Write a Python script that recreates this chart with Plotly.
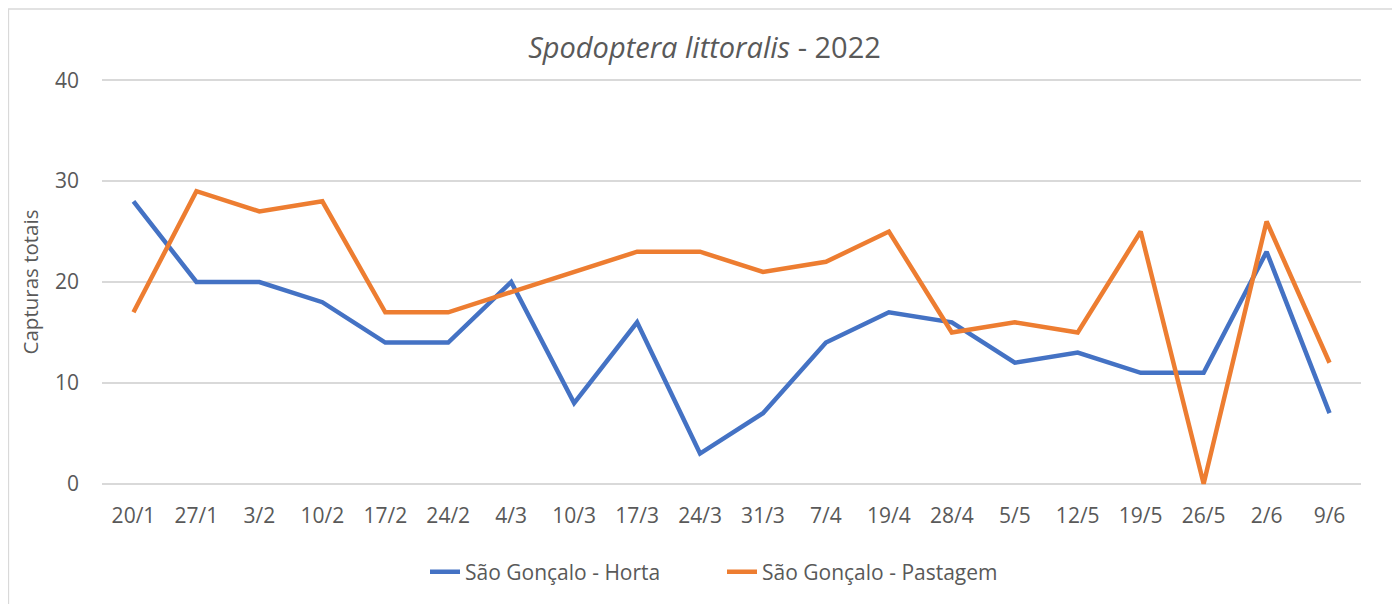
import plotly.graph_objects as go

categories = ["20/1", "27/1", "3/2", "10/2", "17/2", "24/2", "4/3", "10/3", "17/3", "24/3",
              "31/3", "7/4", "19/4", "28/4", "5/5", "12/5", "19/5", "26/5", "2/6", "9/6"]
horta = [28, 20, 20, 18, 14, 14, 20, 8, 16, 3, 7, 14, 17, 16, 12, 13, 11, 11, 23, 7]
pastagem = [17, 29, 27, 28, 17, 17, 19, 21, 23, 23, 21, 22, 25, 15, 16, 15, 25, 0, 26, 12]
y_ticks = [0, 10, 20, 30, 40]

FONT = "Open Sans"
GREY = "#595959"

fig = go.Figure()
fig.add_trace(go.Scatter(x=categories, y=horta, mode="lines", name="São Gonçalo - Horta",
                         line=dict(color="#4472C4", width=4.5)))
fig.add_trace(go.Scatter(x=categories, y=pastagem, mode="lines", name="São Gonçalo - Pastagem",
                         line=dict(color="#ED7D31", width=4.5)))

W, H = 1392, 596
L, T = 94, 71
R = W - 1353
B = H - 477
pw, ph = W - L - R, H - T - B

fig.update_layout(
    width=W, height=H,
    margin=dict(l=L, r=R, t=T, b=B, autoexpand=False),
    paper_bgcolor="white", plot_bgcolor="white",
    font=dict(family=FONT, color=GREY, size=20),
    title=dict(text="<i>Spodoptera littoralis</i> - 2022", x=696.5 / W, xanchor="center",
               y=1 - 40 / H, yanchor="middle", font=dict(size=29, color=GREY, family=FONT)),
    xaxis=dict(type="category", range=[-0.5, len(categories) - 0.5], showgrid=False,
               showline=False, zeroline=False, ticks="", ticklabelstandoff=16,
               tickfont=dict(size=21, color=GREY)),
    yaxis=dict(range=[-0.12, 40.12], tickvals=y_ticks, showgrid=True, gridcolor="#d9d9d9", gridwidth=1.5,
               zeroline=True, zerolinecolor="#d9d9d9", zerolinewidth=1.5,
               showline=False, ticks="", ticklabelstandoff=22,
               tickfont=dict(size=21, color=GREY),
               title=dict(text="Capturas totais", font=dict(size=20.5, color=GREY), standoff=10)),
    legend=dict(orientation="h", x=(714 - L) / pw, xanchor="center",
                y=-(564 - 477) / ph, yanchor="middle", entrywidth=252,
                font=dict(size=21, color=GREY), traceorder="normal"),
    showlegend=True,
)

fig.add_shape(type="rect", xref="paper", yref="paper",
              x0=(0.5 - L) / pw, x1=(W + 20 - L) / pw,
              y0=-(H + 20 - (H - B)) / ph, y1=(H - B - 1) / ph,
              line=dict(color="#d9d9d9", width=1.3), fillcolor="rgba(0,0,0,0)", layer="below")

fig.write_html("out.html")
